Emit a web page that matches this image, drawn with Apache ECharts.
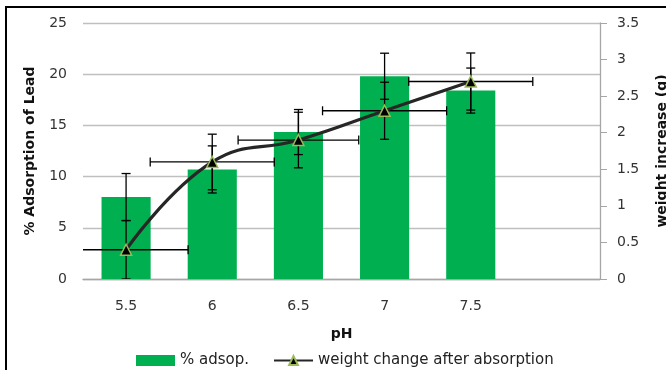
<!DOCTYPE html>
<html>
<head>
<meta charset="utf-8">
<script src="https://cdn.jsdelivr.net/npm/echarts@6/dist/echarts.min.js"></script>
<style>html,body{margin:0;padding:0;background:#fff;}#c{width:666px;height:370px;}</style>
</head>
<body>
<div id="c"></div>
<script>
const categories = ['5.5', '6', '6.5', '7', '7.5', ''];
const adsorption = [8.0, 10.7, 14.35, 19.8, 18.4];
const adsorptionErr = [2.3, 2.3, 2.2, 2.25, 2.2];
const weightChange = [0.4, 1.6, 1.9, 2.3, 2.7];
const weightErrY = [0.4, 0.38, 0.38, 0.39, 0.39];
const weightErrX = [0.36, 0.36, 0.35, 0.36, 0.36];
const leftTicks = { min: 0, max: 25, interval: 5 };
const rightTicks = { min: 0, max: 3.5, interval: 0.5 };
const catStep = 0.5;

const FONT = 'DejaVu Sans';
const chart = echarts.init(document.getElementById('c'), null, { renderer: 'canvas' });

function renderBarErr(params, api) {
  const i = api.value(0), v = api.value(1), e = api.value(2);
  const top = api.coord([i, v + e]);
  const bot = api.coord([i, v - e]);
  const cw = 4.5;
  const st = { stroke: '#000', lineWidth: 1.3 };
  return { type: 'group', children: [
    { type: 'line', shape: { x1: top[0], y1: top[1], x2: bot[0], y2: bot[1] }, style: st },
    { type: 'line', shape: { x1: top[0] - cw, y1: top[1], x2: top[0] + cw, y2: top[1] }, style: st },
    { type: 'line', shape: { x1: bot[0] - cw, y1: bot[1], x2: bot[0] + cw, y2: bot[1] }, style: st }
  ]};
}

function renderLineErr(params, api) {
  const i = api.value(0), v = api.value(1), ey = api.value(2), ex = api.value(3);
  const c = api.coord([i, v]);
  const top = api.coord([i, v + ey]);
  const bot = api.coord([i, v - ey]);
  const band = api.size([1, 0])[0];
  const hw = ex / catStep * band;
  const cw = 4.5;
  const st = { stroke: '#000', lineWidth: 1.3 };
  return { type: 'group', children: [
    { type: 'line', shape: { x1: top[0], y1: top[1], x2: bot[0], y2: bot[1] }, style: st },
    { type: 'line', shape: { x1: top[0] - cw, y1: top[1], x2: top[0] + cw, y2: top[1] }, style: st },
    { type: 'line', shape: { x1: bot[0] - cw, y1: bot[1], x2: bot[0] + cw, y2: bot[1] }, style: st },
    { type: 'line', shape: { x1: c[0] - hw, y1: c[1], x2: c[0] + hw, y2: c[1] }, style: st },
    { type: 'line', shape: { x1: c[0] - hw, y1: c[1] - cw, x2: c[0] - hw, y2: c[1] + cw }, style: st },
    { type: 'line', shape: { x1: c[0] + hw, y1: c[1] - cw, x2: c[0] + hw, y2: c[1] + cw }, style: st }
  ]};
}

const option = {
  animation: false,
  backgroundColor: '#fff',
  textStyle: { fontFamily: FONT },
  graphic: [{
    type: 'rect', z: -10,
    shape: { x: 6, y: 7, width: 720, height: 420 },
    style: { fill: 'none', stroke: '#000', lineWidth: 2 }
  }],
  grid: { left: 83, right: 66, top: 23, bottom: 91, containLabel: false, outerBoundsMode: 'none' },
  legend: {
    left: 131, top: 348,
    itemWidth: 39, itemHeight: 11, itemGap: 24,
    textStyle: { fontFamily: FONT, fontSize: 15, color: '#222' },
    data: [{ name: '% adsop.', icon: 'rect' }, { name: 'weight change after absorption' }]
  },
  xAxis: {
    type: 'category',
    data: categories,
    name: 'pH',
    nameLocation: 'middle',
    nameGap: 48,
    nameTextStyle: { fontFamily: FONT, fontWeight: 'bold', fontSize: 14, color: '#111' },
    axisLine: { lineStyle: { color: '#a6a6a6', width: 1.3 } },
    axisTick: { show: false },
    axisLabel: { margin: 20, fontFamily: FONT, fontSize: 14, color: '#333' }
  },
  yAxis: [{
    type: 'value',
    min: leftTicks.min, max: leftTicks.max, interval: leftTicks.interval,
    name: '% Adsorption of Lead',
    nameLocation: 'middle',
    nameGap: 46,
    nameTextStyle: { fontFamily: FONT, fontWeight: 'bold', fontSize: 14, color: '#111' },
    axisLine: { show: false },
    axisTick: { show: false },
    axisLabel: { margin: 16, fontFamily: FONT, fontSize: 14, color: '#333' },
    splitLine: { lineStyle: { color: '#bfbfbf', width: 1.3 } }
  }, {
    type: 'value',
    position: 'right',
    min: rightTicks.min, max: rightTicks.max, interval: rightTicks.interval,
    name: 'weight increase (g)',
    nameLocation: 'middle',
    nameGap: 55,
    nameTextStyle: { fontFamily: FONT, fontWeight: 'bold', fontSize: 14, color: '#111' },
    axisLine: { show: true, lineStyle: { color: '#a6a6a6', width: 1.3 } },
    axisTick: { show: true, inside: false, length: 7, lineStyle: { color: '#a6a6a6' } },
    axisLabel: { margin: 17, fontFamily: FONT, fontSize: 14, color: '#333' },
    splitLine: { show: false }
  }],
  series: [{
    name: '% adsop.',
    type: 'bar',
    yAxisIndex: 0,
    data: adsorption,
    barWidth: '57%',
    itemStyle: { color: '#00B050' },
    z: 2
  }, {
    name: 'barErr',
    type: 'custom',
    yAxisIndex: 0,
    clip: true,
    renderItem: renderBarErr,
    data: adsorption.map((v, i) => [i, v, adsorptionErr[i]]),
    z: 3
  }, {
    name: 'lineErr',
    type: 'custom',
    yAxisIndex: 1,
    clip: true,
    renderItem: renderLineErr,
    data: weightChange.map((v, i) => [i, v, weightErrY[i], weightErrX[i]]),
    z: 3
  }, {
    name: 'weight change after absorption',
    type: 'line',
    yAxisIndex: 1,
    data: weightChange,
    smooth: 0.45,
    symbol: 'triangle',
    symbolSize: 11,
    lineStyle: { color: '#262626', width: 3.2 },
    itemStyle: { color: '#000', borderColor: '#9BBB59', borderWidth: 1.5 },
    z: 4
  }]
};
chart.setOption(option);
</script>
</body>
</html>
